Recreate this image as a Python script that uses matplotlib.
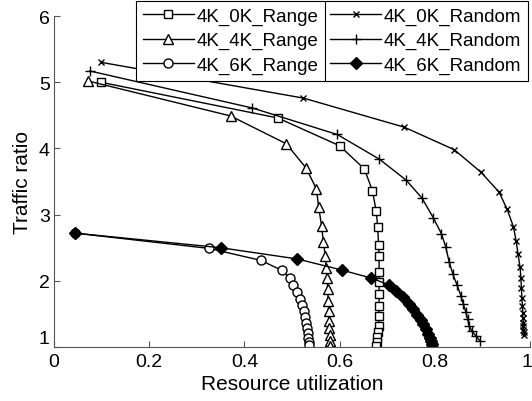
import matplotlib
matplotlib.use("Agg")
import matplotlib.pyplot as plt
import matplotlib.transforms as mtransforms

plt.rcParams['font.family'] = ['Liberation Sans', 'DejaVu Sans']

# Data
range0_x = [0.098, 0.47, 0.60, 0.652, 0.669, 0.677, 0.680, 0.682, 0.683, 0.683, 0.683, 0.683, 0.683, 0.683, 0.682, 0.681, 0.679, 0.678, 0.677]
range0_y = [5.0, 4.46, 4.04, 3.69, 3.36, 3.05, 2.81, 2.54, 2.37, 2.13, 1.98, 1.80, 1.62, 1.47, 1.32, 1.23, 1.15, 1.08, 1.02]

range4_x = [0.071, 0.371, 0.488, 0.53, 0.551, 0.556, 0.562, 0.566, 0.570, 0.572, 0.574, 0.575, 0.576, 0.577, 0.578, 0.578, 0.579, 0.579, 0.579]
range4_y = [5.02, 4.49, 4.07, 3.70, 3.39, 3.12, 2.83, 2.59, 2.37, 2.20, 2.04, 1.87, 1.70, 1.54, 1.40, 1.28, 1.18, 1.09, 1.02]

range6_x = [0.044, 0.325, 0.434, 0.478, 0.496, 0.503, 0.510, 0.516, 0.521, 0.525, 0.528, 0.530, 0.532, 0.533, 0.534, 0.535, 0.535]
range6_y = [2.72, 2.49, 2.31, 2.16, 2.04, 1.93, 1.83, 1.73, 1.63, 1.54, 1.45, 1.37, 1.29, 1.21, 1.14, 1.08, 1.03]

random0_x = [0.099, 0.524, 0.736, 0.841, 0.897, 0.935, 0.952, 0.965, 0.971, 0.975, 0.979, 0.981, 0.982, 0.983, 0.984, 0.985, 0.985, 0.986, 0.986, 0.986, 0.987, 0.987]
random0_y = [5.30, 4.76, 4.32, 3.98, 3.64, 3.34, 3.08, 2.82, 2.60, 2.40, 2.21, 2.04, 1.89, 1.74, 1.62, 1.52, 1.44, 1.37, 1.31, 1.26, 1.22, 1.18]

random4_x = [0.075, 0.417, 0.595, 0.683, 0.74, 0.773, 0.797, 0.814, 0.823, 0.83, 0.838, 0.847, 0.855, 0.86, 0.865, 0.869, 0.872, 0.878, 0.886, 0.895]
random4_y = [5.17, 4.61, 4.21, 3.84, 3.52, 3.25, 2.95, 2.71, 2.51, 2.29, 2.10, 1.93, 1.77, 1.65, 1.53, 1.42, 1.32, 1.24, 1.17, 1.09]

random6_x = [0.044, 0.35, 0.511, 0.606, 0.667, 0.703, 0.719, 0.734, 0.746, 0.755, 0.763, 0.770, 0.776, 0.781, 0.785, 0.789, 0.792, 0.794, 0.795]
random6_y = [2.72, 2.50, 2.33, 2.16, 2.04, 1.94, 1.85, 1.75, 1.65, 1.57, 1.49, 1.41, 1.34, 1.27, 1.20, 1.14, 1.09, 1.04, 1.0]

labels_range = ['4K_0K_Range', '4K_4K_Range', '4K_6K_Range']
labels_random = ['4K_0K_Random', '4K_4K_Random', '4K_6K_Random']

x_ticks = [0, 0.2, 0.4, 0.6, 0.8, 1]
x_ticklabels = ['0', '0.2', '0.4', '0.6', '0.8', '1']
y_ticks = [1, 2, 3, 4, 5, 6]

fig = plt.figure(figsize=(5.32, 4.02), dpi=100)
ax = fig.add_axes([54/532, 1 - 348/402, (530-54)/532, (348-17)/402])

lw = 1.0
h_r0, = ax.plot(range0_x, range0_y, '-', color='black', lw=lw, marker='s', ms=6, mfc='white', mec='black', mew=1.0)
h_r4, = ax.plot(range4_x, range4_y, '-', color='black', lw=lw, marker='^', ms=7.5, mfc='white', mec='black', mew=1.0)
h_r6, = ax.plot(range6_x, range6_y, '-', color='black', lw=lw, marker='o', ms=6.5, mfc='white', mec='black', mew=1.0)
h_n0, = ax.plot(random0_x, random0_y, '-', color='black', lw=lw, marker='x', ms=5, mec='black', mew=1.0)
h_n4, = ax.plot(random4_x, random4_y, '-', color='black', lw=lw, marker='+', ms=7, mec='black', mew=1.0)
h_n6, = ax.plot(random6_x, random6_y, '-', color='black', lw=lw, marker='D', ms=6, mfc='black', mec='black', mew=1.0)

ax.set_xlim(0, 1)
ax.set_ylim(1, 6)
ax.set_xticks(x_ticks)
ax.set_xticklabels(x_ticklabels)
ax.set_yticks(y_ticks)
ax.tick_params(direction='in', length=4, width=0.8, labelsize=14, labelcolor='black', color='#555555')
ax.tick_params(axis='x', pad=4)
ax.tick_params(axis='y', pad=3)
# MATLAB-style: lowest y label sits above its tick
ax.get_yticklabels()[0].set_verticalalignment('bottom')
# keep the last x label inside the canvas
last = ax.get_xticklabels()[-1]
last.set_horizontalalignment('right')
last.set_transform(last.get_transform() + mtransforms.ScaledTranslation(2/100, 0, fig.dpi_scale_trans))
for s in ['top', 'right']:
    ax.spines[s].set_visible(False)
for s in ['left', 'bottom']:
    ax.spines[s].set_color('#555555')
    ax.spines[s].set_linewidth(0.8)

ax.set_xlabel('Resource utilization', fontsize=15, labelpad=3)
ax.set_ylabel('Traffic ratio', fontsize=15, labelpad=5)

leg_kw = dict(fontsize=13.5, frameon=True, fancybox=False, edgecolor='black',
              framealpha=1, handlelength=2.7, handletextpad=0.15, borderpad=0.36,
              labelspacing=0.38, borderaxespad=0)
leg2 = fig.legend([h_n0, h_n4, h_n6], labels_random, loc='upper right',
                  bbox_to_anchor=(528/532, 1 - 2/402), **leg_kw)
leg1 = fig.legend([h_r0, h_r4, h_r6], labels_range, loc='upper right',
                  bbox_to_anchor=(325/532, 1 - 2/402), **leg_kw)
for lg in (leg1, leg2):
    lg.get_frame().set_linewidth(0.8)

fig.savefig('out.png', dpi=100)
